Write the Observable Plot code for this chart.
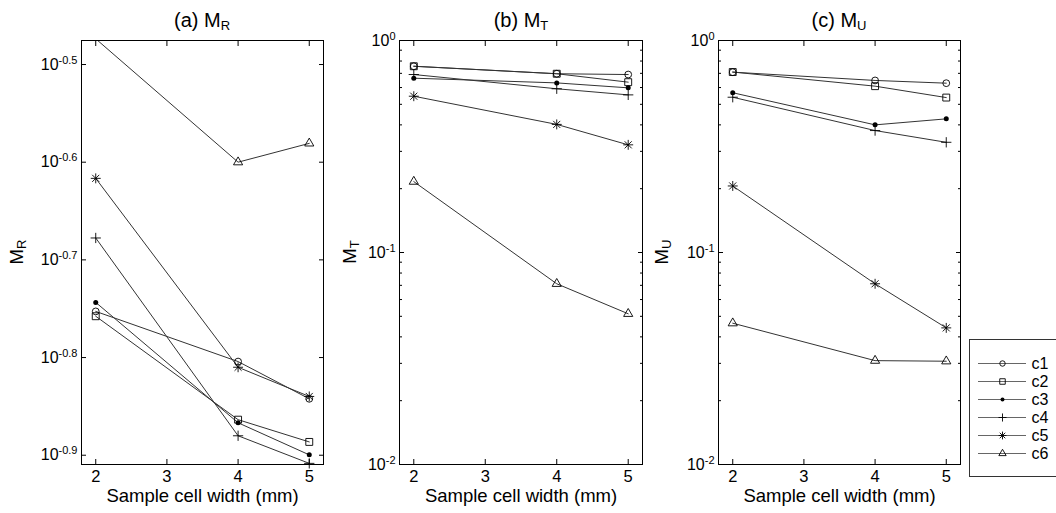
<!DOCTYPE html>
<html><head><meta charset="utf-8">
<script src="https://cdn.jsdelivr.net/npm/d3@7"></script>
<script src="https://cdn.jsdelivr.net/npm/@observablehq/plot@0.6"></script>
<style>
body{margin:0;background:#fff;}
#root{position:relative;width:1056px;height:513px;overflow:hidden;font-family:"Liberation Sans",Arial,sans-serif;background:#fff;color:#000;}
.abs{position:absolute;}
.ttl{font-size:20px;line-height:20px;white-space:nowrap;transform:translateX(-50%);}
.ttl .sub{font-size:13px;vertical-align:-3px;}
.ylab{font-size:18.5px;line-height:20px;white-space:nowrap;transform:translate(-50%,-50%) rotate(-90deg);}
.ylab .sub{font-size:13px;vertical-align:-3px;}
</style>
</head><body><div id="root"></div>
<script>
// ---- data ----
const widths = [2, 4, 5];
const series = ["c1", "c2", "c3", "c4", "c5", "c6"];
const xTicks = [2, 3, 4, 5];
const mrTickExps = [-0.9, -0.8, -0.7, -0.6, -0.5];
const mtTickExps = [-2, -1, 0];
const minorMantissas = [2, 3, 4, 5, 6, 7, 8, 9];
const minorDecades = [0.01, 0.1];

const MR_c1 = [0.1767, 0.1570, 0.1438];
const MR_c2 = [0.1747, 0.1369, 0.1299];
const MR_c3 = [0.1805, 0.1359, 0.1260];
const MR_c4 = [0.2101, 0.1318, 0.1235];
const MR_c5 = [0.2418, 0.1549, 0.1446];
const MR_c6 = [0.3360, 0.2512, 0.2626];

const MT_c1 = [0.756, 0.697, 0.691];
const MT_c2 = [0.756, 0.697, 0.636];
const MT_c3 = [0.664, 0.631, 0.598];
const MT_c4 = [0.691, 0.592, 0.554];
const MT_c5 = [0.546, 0.402, 0.322];
const MT_c6 = [0.216, 0.0712, 0.0514];

const MU_c1 = [0.709, 0.648, 0.629];
const MU_c2 = [0.710, 0.609, 0.538];
const MU_c3 = [0.567, 0.400, 0.427];
const MU_c4 = [0.540, 0.376, 0.331];
const MU_c5 = [0.206, 0.0712, 0.0441];
const MU_c6 = [0.0464, 0.0309, 0.0307];

const xLabel = "Sample cell width (mm)";

// ---- helpers ----
const FONT = "Liberation Sans, Arial, sans-serif";
function toRows(arrs) {
  return arrs.flatMap((vals, i) => vals.map((v, j) => ({s: series[i], x: widths[j], y: v})));
}
function markers(data, k) {
  const sel = s => data.filter(d => d.s === s);
  const o = {x: "x", y: "y", stroke: "black", strokeWidth: 0.9};
  return [
    Plot.dot(sel("c1"), {...o, symbol: "circle", r: 3.4 * k, fill: "none"}),
    Plot.dot(sel("c2"), {...o, symbol: "square", r: 3.9 * k, fill: "none"}),
    Plot.dot(sel("c3"), {x: "x", y: "y", symbol: "circle", r: 2.5 * k, fill: "black", stroke: "none"}),
    Plot.dot(sel("c4"), {...o, symbol: "plus", r: 3.4 * k}),
    Plot.dot(sel("c5"), {...o, symbol: "plus", r: 3.3 * k}),
    Plot.dot(sel("c5"), {...o, symbol: "times", r: 3.3 * k}),
    Plot.dot(sel("c6"), {...o, symbol: "triangle", r: 3.4 * k, fill: "none"})
  ];
}
function expFmt(d) { return String(Math.round(Math.log10(d) * 10) / 10); }

function panel({rows, yDomain, major, minor, width, mL, mR}) {
  const inDomain = rows.filter(d => d.y >= yDomain[0] * 0.9999 && d.y <= yDomain[1] * 1.0001);
  const marks = [
    Plot.line(rows, {x: "x", y: "y", z: "s", stroke: "#333", strokeWidth: 1, clip: true}),
    ...markers(inDomain, 1),
    Plot.frame({stroke: "black", strokeWidth: 1}),
    Plot.axisX(xTicks, {anchor: "bottom", tickSize: 0, tickPadding: 6, label: null, fontSize: 16.5, tickFormat: d => String(d)}),
    Plot.axisX(xTicks, {anchor: "bottom", tickSize: 5, dy: -5, fill: "none", label: null}),
    Plot.axisX(xTicks, {anchor: "top", tickSize: 5, dy: 5, fill: "none", label: null}),
    Plot.axisY(major, {anchor: "left", tickSize: 0, tickPadding: 4, label: null, fontSize: 16, tickFormat: expFmt}),
    Plot.axisY(major, {anchor: "left", tickSize: 5, dx: 5, fill: "none", label: null}),
    Plot.axisY(major, {anchor: "right", tickSize: 5, dx: -5, fill: "none", label: null}),
    Plot.text([xLabel], {frameAnchor: "bottom", dy: 32, fontSize: 18.5, lineAnchor: "middle", text: d => d})
  ];
  if (minor) {
    marks.push(Plot.axisY(minor, {anchor: "left", tickSize: 3, dx: 3, fill: "none", label: null}));
    marks.push(Plot.axisY(minor, {anchor: "right", tickSize: 3, dx: -3, fill: "none", label: null}));
  }
  const svg = Plot.plot({
    width, height: 513, marginLeft: mL, marginRight: mR, marginTop: 40, marginBottom: 49,
    style: {fontFamily: FONT, fontSize: "16px", background: "transparent", color: "black", overflow: "visible"},
    x: {domain: [1.8, 5.2]},
    y: {type: "log", domain: yDomain},
    marks
  });
  d3.select(svg).selectAll('g[aria-label="y-axis tick label"] text').each(function () {
    const t = d3.select(this);
    const e = t.text();
    t.text("10");
    t.append("tspan").attr("dy", "-0.55em").attr("font-size", "11px").text(e);
  });
  return svg;
}

const root = document.getElementById("root");
function place(el, left, top, w) {
  const div = document.createElement("div");
  div.className = "abs";
  div.style.left = left + "px";
  div.style.top = top + "px";
  if (w) div.style.width = w + "px";
  div.appendChild(el);
  root.appendChild(div);
}

const minorTicks = minorDecades.flatMap(dec => minorMantissas.map(m => m * dec));

place(panel({
  rows: toRows([MR_c1, MR_c2, MR_c3, MR_c4, MR_c5, MR_c6]),
  yDomain: [Math.pow(10, -0.9095), Math.pow(10, -0.4754)],
  major: mrTickExps.map(e => Math.pow(10, e)), minor: null,
  width: 340, mL: 81, mR: 17
}), 0, 0, 340);

place(panel({
  rows: toRows([MT_c1, MT_c2, MT_c3, MT_c4, MT_c5, MT_c6]),
  yDomain: [0.01, 1],
  major: mtTickExps.map(e => Math.pow(10, e)), minor: minorTicks,
  width: 330, mL: 59, mR: 28
}), 340, 0, 330);

place(panel({
  rows: toRows([MU_c1, MU_c2, MU_c3, MU_c4, MU_c5, MU_c6]),
  yDomain: [0.01, 1],
  major: mtTickExps.map(e => Math.pow(10, e)), minor: minorTicks,
  width: 300, mL: 48, mR: 10
}), 670, 0, 300);

// legend
const legRows = series.map(s => ({s, x: 33, y: s}));
const legend = Plot.plot({
  width: 87, height: 137, margin: 0,
  style: {fontFamily: FONT, fontSize: "16px", background: "white", color: "black", overflow: "visible"},
  x: {domain: [0, 87], axis: null},
  y: {type: "point", domain: series, range: [14, 124.5], axis: null},
  marks: [
    Plot.frame({stroke: "#333", strokeWidth: 1}),
    Plot.ruleY(series, {y: d => d, x1: 9, x2: 57, stroke: "#555", strokeWidth: 0.9}),
    ...markers(legRows, 0.8),
    Plot.text(series, {x: 62, y: d => d, text: d => d, textAnchor: "start", fontSize: 16})
  ]
});
place(legend, 969, 339, 87);

// titles and y labels (rich text for subscripts)
function addHTML(cls, left, top, html) {
  const d = document.createElement("div");
  d.className = "abs " + cls;
  d.style.left = left + "px";
  d.style.top = top + "px";
  d.innerHTML = html;
  root.appendChild(d);
}
addHTML("ttl", 202, 10, '(a) M<span class="sub">R</span>');
addHTML("ttl", 521, 10, '(b) M<span class="sub">T</span>');
addHTML("ttl", 839, 10, '(c) M<span class="sub">U</span>');
addHTML("ylab", 19, 252, 'M<span class="sub">R</span>');
addHTML("ylab", 352, 252, 'M<span class="sub">T</span>');
addHTML("ylab", 664, 252, 'M<span class="sub">U</span>');
</script>
</body></html>
